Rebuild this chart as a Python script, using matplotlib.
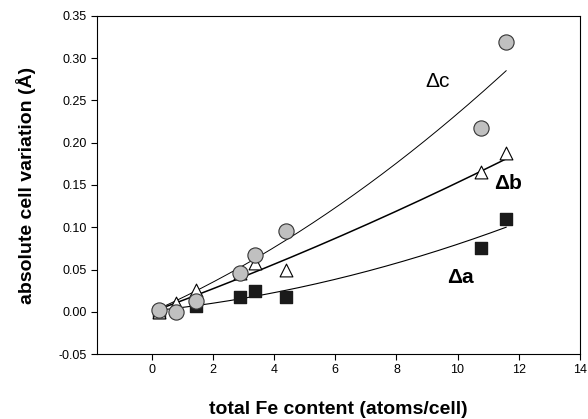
import numpy as np
import matplotlib
matplotlib.use('Agg')
import matplotlib.pyplot as plt

# ===== DATA =====
fe_content = [0.24, 0.79, 1.45, 2.89, 3.37, 4.37, 10.78, 11.59]
delta_c = [0.002, 0.000, 0.013, 0.046, 0.067, 0.096, 0.218, 0.319]
delta_b = [0.000, 0.010, 0.026, 0.046, 0.058, 0.050, 0.165, 0.188]
delta_a = [0.000, None, 0.007, 0.018, 0.025, 0.018, 0.076, 0.110]

# fitted curves y = p0 + p1*x + p2*x^2, coefficients
fit_c = [0.0, 0.01614, 0.00073]
fit_b = [0.0, 0.01327, 0.000202]
fit_a = [0.001, 0.00377, 0.000412]

plt.rcParams['font.family'] = ['Liberation Sans', 'DejaVu Sans']

fig = plt.figure(figsize=(5.88, 4.19), dpi=100)
ax = fig.add_axes([0.165, 0.155, 0.821, 0.807])

xf = np.linspace(fe_content[0], fe_content[-1], 200)
for coef, lw in ((fit_c, 0.7), (fit_b, 1.1), (fit_a, 0.8)):
	ax.plot(xf, coef[0] + coef[1]*xf + coef[2]*xf**2, color='black', lw=lw, zorder=2)

xa = [x for x, y in zip(fe_content, delta_a) if y is not None]
ya = [y for y in delta_a if y is not None]
ax.scatter(xa, ya, marker='s', s=65, color='#1a1a1a', zorder=3)
ax.scatter(fe_content, delta_b, marker='^', s=85, facecolor='white', edgecolor='black', lw=0.8, zorder=3)
ax.scatter(fe_content, delta_c, marker='o', s=120, facecolor='#c0c0c0', edgecolor='#333333', lw=0.8, zorder=4)

ax.annotate('Δc', xy=(9.35, 0.273), fontsize=15, ha='center', va='center')
ax.annotate('Δb', xy=(11.65, 0.152), fontsize=15, fontweight='bold', ha='center', va='center')
ax.annotate('Δa', xy=(10.1, 0.040), fontsize=15, fontweight='bold', ha='center', va='center')

ax.set_xlim(-1.8, 14)
ax.set_ylim(-0.05, 0.35)
ax.set_xticks(range(0, 15, 2))
ax.set_yticks(np.arange(-0.05, 0.351, 0.05))
ax.yaxis.set_major_formatter(matplotlib.ticker.FormatStrFormatter('%.2f'))
ax.tick_params(labelsize=9, direction='out', length=4, width=0.8)

ax.set_xlabel('total Fe content (atoms/cell)', fontsize=14, fontweight='bold', labelpad=18)
ax.set_ylabel('absolute cell variation (Å)', fontsize=14, fontweight='bold', labelpad=16)

fig.savefig('out.png', dpi=100)
